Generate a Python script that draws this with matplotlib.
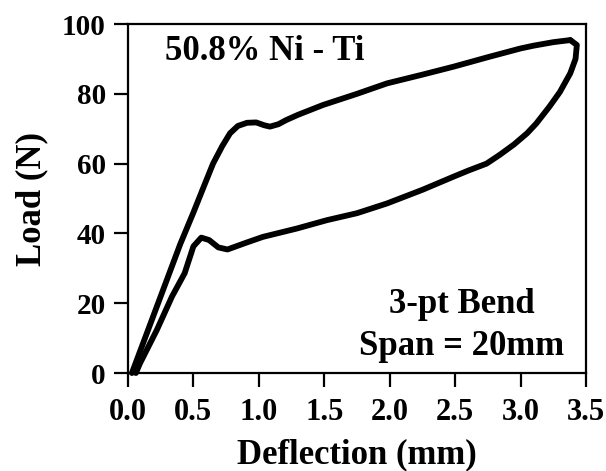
import matplotlib.pyplot as plt

plt.rcParams["font.family"] = ["Liberation Serif", "DejaVu Serif"]
plt.rcParams["font.weight"] = "bold"

# loading branch (upper curve)
load_x = [0.03, 0.10, 0.20, 0.30, 0.40, 0.50, 0.58, 0.65, 0.72, 0.78, 0.84, 0.91,
          0.98, 1.04, 1.085, 1.15, 1.21, 1.30, 1.49, 1.75, 1.98, 2.25, 2.49, 2.75,
          3.00, 3.10, 3.25, 3.38]
load_y = [0, 7, 17, 27, 37, 46, 53.5, 60, 65, 68.7, 70.8, 71.7,
          71.8, 71.0, 70.6, 71.3, 72.5, 74, 76.8, 80, 83, 85.5, 87.8, 90.5,
          93, 93.8, 94.8, 95.4]

# unloading branch (lower curve), from the tip back to zero
unload_x = [3.38, 3.43, 3.42, 3.38, 3.30, 3.22, 3.12, 3.05, 2.95, 2.84, 2.74, 2.60,
            2.49, 2.25, 1.98, 1.75, 1.52, 1.29, 1.03, 0.90, 0.76, 0.69, 0.62, 0.56,
            0.50, 0.433, 0.336, 0.22, 0.092, 0.06]
unload_y = [95.4, 94.0, 90.0, 85.9, 80.5, 76.3, 71.5, 68.7, 65.5, 62.5, 60.0, 58.0,
            56.3, 52.5, 48.6, 45.8, 43.8, 41.4, 39.0, 37.3, 35.4, 36.0, 38.1, 38.8,
            36.3, 28.6, 21.9, 12.3, 2.8, 0]

xticks = [0.0, 0.5, 1.0, 1.5, 2.0, 2.5, 3.0, 3.5]
yticks = [0, 20, 40, 60, 80, 100]

fig = plt.figure(figsize=(6.06, 4.71), dpi=100)
ax = fig.add_axes([0.2112, 0.208, 0.7558, 0.741])

for xs, ys in [(load_x, load_y), (unload_x, unload_y)]:
    ax.plot(xs, ys, color="black", linewidth=4.2,
            solid_joinstyle="round", solid_capstyle="round", clip_on=False)

ax.set_xlim(0, 3.5)
ax.set_ylim(0, 100)
ax.set_xticks(xticks)
ax.set_xticklabels([f"{t:.1f}" for t in xticks])
ax.set_yticks(yticks)

for s in ax.spines.values():
    s.set_linewidth(1.6)

ax.tick_params(direction="out", length=10, width=1.6)
ax.tick_params(axis="y", labelsize=21, pad=6)
ax.tick_params(axis="x", labelsize=22, pad=8)

ax.set_xlabel("Deflection (mm)", fontsize=25, fontweight="bold", labelpad=8)
ax.set_ylabel("Load (N)", fontsize=25, fontweight="bold", labelpad=10)

ax.text(0.28, 92, "50.8% Ni - Ti", fontsize=25, fontweight="bold",
        ha="left", va="center")
ax.text(2.55, 19.5, "3-pt Bend", fontsize=25, fontweight="bold",
        ha="center", va="center")
ax.text(2.55, 7.5, "Span = 20mm", fontsize=25, fontweight="bold",
        ha="center", va="center")

plt.savefig("out.png", dpi=100)
